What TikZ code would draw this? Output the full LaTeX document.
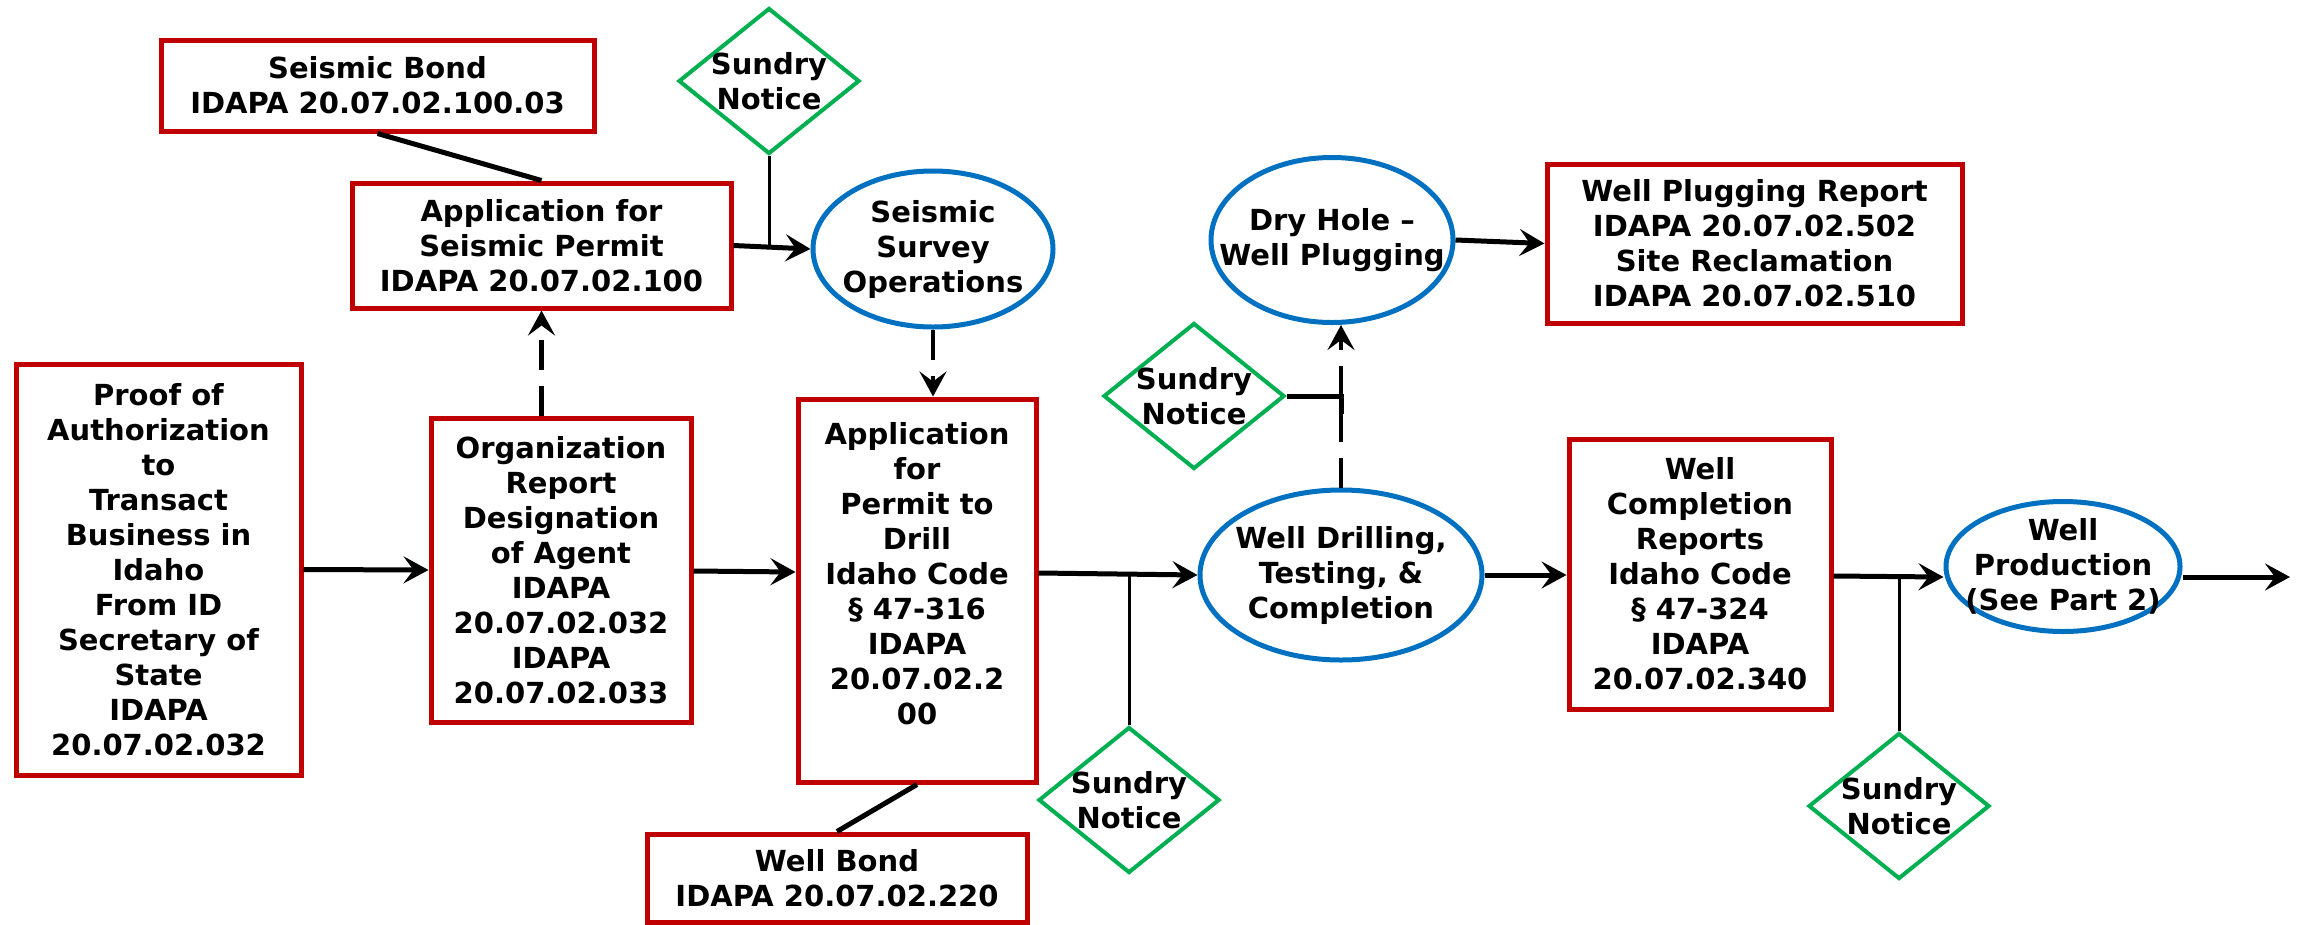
\documentclass[tikz,border=0pt]{standalone}
\usepackage{fontspec}
\setmainfont{DejaVu Sans}
\usetikzlibrary{shapes.geometric,arrows.meta}
\definecolor{myred}{HTML}{C00000}
\definecolor{myblue}{HTML}{0070C0}
\definecolor{mygreen}{HTML}{00B050}
\tikzset{
  txt/.style={align=center, font=\fontsize{29}{35}\selectfont\bfseries},
  rbox/.style={draw=myred, line width=5pt, rectangle, inner sep=0pt},
  oval/.style={draw=myblue, line width=5pt, ellipse, inner sep=0pt},
  sund/.style={draw=mygreen, line width=4pt, diamond, inner sep=0pt,
    minimum width=181pt, minimum height=146pt,
    label={[txt]center:Sundry\\Notice}},
  arr/.style={line width=5pt, -{Stealth[length=25pt,width=27pt,inset=10pt]}},
  darr/.style={arr, line width=4.5pt, dash pattern=on 30pt off 16pt},
  plain/.style={line width=5pt},
  thinl/.style={line width=3pt},
}
\begin{document}
\begin{tikzpicture}[x=1pt,y=-1pt]
\useasboundingbox (0,0) rectangle (2301,924);

% rectangles
\node[rbox, minimum width=433pt, minimum height=91pt,
  label={[txt]center:Seismic Bond\\IDAPA 20.07.02.100.03}] (bond) at (377.5,85.5) {};
\node[rbox, minimum width=379pt, minimum height=125pt,
  label={[txt]center:Application for\\Seismic Permit\\IDAPA 20.07.02.100}] (appseis) at (541.5,245.5) {};
\node[rbox, minimum width=415pt, minimum height=159pt,
  label={[txt]center:Well Plugging Report\\IDAPA 20.07.02.502\\Site Reclamation\\IDAPA 20.07.02.510}] (plugrep) at (1754.5,243.5) {};
\node[rbox, minimum width=285pt, minimum height=411pt,
  label={[txt]center:Proof of\\Authorization\\to\\Transact\\Business in\\Idaho\\From ID\\Secretary of\\State\\IDAPA\\20.07.02.032}] (proof) at (158.5,569.5) {};
\node[rbox, minimum width=260pt, minimum height=304pt,
  label={[txt]center:Organization\\Report\\Designation\\of Agent\\IDAPA\\20.07.02.032\\IDAPA\\20.07.02.033}] (org) at (561,570) {};
\node[rbox, minimum width=238pt, minimum height=383pt,
  label={[txt,yshift=17pt]center:Application\\for\\Permit to\\Drill\\Idaho Code\\§ 47-316\\IDAPA\\20.07.02.2\\00}] (drill) at (917,590.5) {};
\node[rbox, minimum width=262pt, minimum height=270pt,
  label={[txt]center:Well\\Completion\\Reports\\Idaho Code\\§ 47-324\\IDAPA\\20.07.02.340}] (compl) at (1700,574) {};
\node[rbox, minimum width=380pt, minimum height=88pt,
  label={[txt]center:Well Bond\\IDAPA 20.07.02.220}] (wbond) at (837,878) {};

% ellipses
\node[oval, minimum width=240pt, minimum height=156pt,
  label={[txt]center:Seismic\\Survey\\Operations}] (survey) at (933,249) {};
\node[oval, minimum width=242pt, minimum height=165pt,
  label={[txt]center:Dry Hole –\\Well Plugging}] (dry) at (1332,240) {};
\node[oval, minimum width=282pt, minimum height=170pt,
  label={[txt]center:Well Drilling,\\Testing, \&\\Completion}] (welldrill) at (1341,575) {};
\node[oval, minimum width=234pt, minimum height=130pt,
  label={[txt]center:Well\\Production\\(See Part 2)}] (prod) at (2063,566.5) {};

% diamonds
\node[sund] (sA) at (769,81) {};
\node[sund] (sB) at (1194,396) {};
\node[sund] (sC) at (1129,800) {};
\node[sund] (sD) at (1899,806) {};

\coordinate (endp) at (2290,577);

% connectors
\draw[plain] (bond.south) -- (appseis.north);
\draw[arr] (appseis.east) -- (survey.west);
\draw[thinl] (sA.south) -- (sA.south |- appseis.east);
\draw[darr] (org.north -| appseis.south) -- (appseis.south);
\draw[darr] (survey.south) -- (survey.south |- drill.north);
\draw[arr] (dry.east) -- (plugrep.west);
\draw[darr] (welldrill.north) -- (welldrill.north |- dry.south);
\draw[plain] (sB.east) -- (welldrill.north |- sB.east) -- ++(0,18);
\draw[arr] (proof.east) -- (org.west);
\draw[arr] (org.east |- 0,571) -- (drill.west |- 0,572);
\draw[arr] (drill.east |- 0,573) -- (welldrill.west);
\draw[thinl] (sC.north) -- (sC.north |- 0,574);
\draw[arr] (welldrill.east) -- (compl.west |- welldrill.east);
\draw[arr] (compl.east |- 0,576) -- (prod.west |- 0,577);
\draw[thinl] (sD.north) -- (sD.north |- 0,576);
\draw[arr] (prod.east |- endp) -- (endp);
\draw[plain] (drill.south) -- (wbond.north);
\end{tikzpicture}
\end{document}
